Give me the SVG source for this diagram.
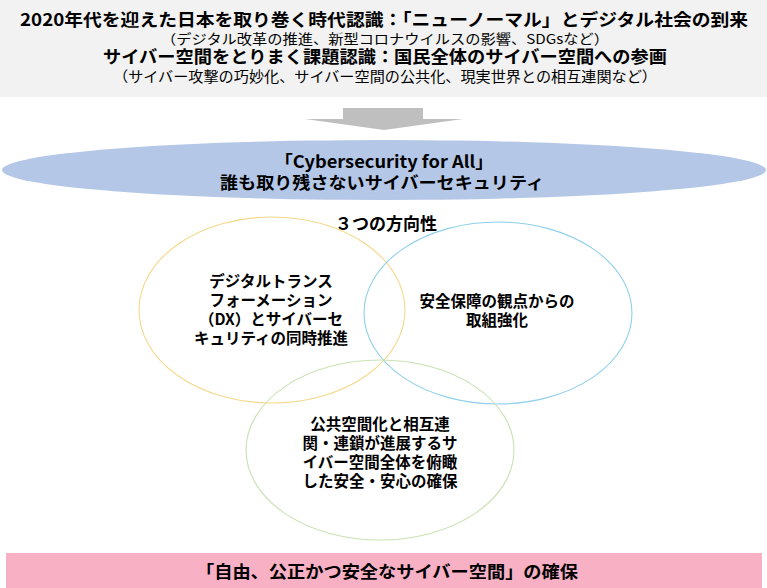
<svg xmlns="http://www.w3.org/2000/svg" width="767" height="588" viewBox="0 0 767 588">
<style>
text{font-family:"Noto Sans CJK JP","Noto Sans",sans-serif;fill:#000;text-anchor:middle;dominant-baseline:central}
.b{font-weight:700}
.venn{fill:none;stroke-width:1.1}
.ct{font-weight:700;font-size:15.5px}
</style>
<rect width="767" height="588" fill="#ffffff"/>
<g id="header">
<rect x="0" y="0" width="767" height="97" fill="#f2f2f2"/>
<text><tspan class="b" x="384" y="17.5" font-size="17.5" textLength="728" lengthAdjust="spacingAndGlyphs">2020年代を迎えた日本を取り巻く時代認識：「ニューノーマル」とデジタル社会の到来</tspan><tspan x="385" y="37.5" font-size="13.5" font-weight="400" textLength="448" lengthAdjust="spacingAndGlyphs">（デジタル改革の推進、新型コロナウイルスの影響、SDGsなど）</tspan><tspan class="b" x="385" y="55" font-size="17.5" textLength="564" lengthAdjust="spacingAndGlyphs">サイバー空間をとりまく課題認識：国民全体のサイバー空間への参画</tspan><tspan x="385" y="75" font-size="14.5" font-weight="400" textLength="544" lengthAdjust="spacingAndGlyphs">（サイバー攻撃の巧妙化、サイバー空間の公共化、現実世界との相互連関など）</tspan></text>
</g>
<g id="connectors">
<polygon points="343,108 423,108 423,119 463,119 384,130 305,119 343,119" fill="#bfbfbf"/>
</g>
<g id="vision">
<ellipse cx="384" cy="170" rx="382" ry="30" fill="#b4c7e7"/>
<text class="b" font-size="17"><tspan x="384" y="159.5" textLength="219" lengthAdjust="spacingAndGlyphs">「Cybersecurity for All」</tspan><tspan x="382" y="181" textLength="324" lengthAdjust="spacingAndGlyphs">誰も取り残さないサイバーセキュリティ</tspan></text>
</g>
<g id="title3">
<text class="b" x="386" y="222" font-size="17">３つの方向性</text>
</g>
<g id="circle-dx">
<ellipse class="venn" cx="272" cy="310" rx="133" ry="93" stroke="#f5d88a"/>
<text class="ct"><tspan x="271" y="280">デジタルトランス</tspan><tspan x="271" y="299">フォーメーション</tspan><tspan x="271" y="318">（DX）とサイバーセ</tspan><tspan x="271" y="337">キュリティの同時推進</tspan></text>
</g>
<g id="circle-security">
<ellipse class="venn" cx="498" cy="313" rx="134" ry="91" stroke="#8fd0ea"/>
<text class="ct"><tspan x="497" y="300">安全保障の観点からの</tspan><tspan x="497" y="319">取組強化</tspan></text>
</g>
<g id="circle-public">
<ellipse class="venn" cx="380" cy="450" rx="134" ry="90" stroke="#c9e2b3"/>
<text class="ct"><tspan x="380" y="423">公共空間化と相互連</tspan><tspan x="380" y="442">関・連鎖が進展するサ</tspan><tspan x="380" y="461">イバー空間全体を俯瞰</tspan><tspan x="380" y="480">した安全・安心の確保</tspan></text>
</g>
<g id="goal">
<rect x="6" y="553" width="756" height="35" fill="#f8b0c4"/>
<text class="b" x="387" y="570" font-size="17" textLength="382" lengthAdjust="spacingAndGlyphs">「自由、公正かつ安全なサイバー空間」の確保</text>
</g>
</svg>
